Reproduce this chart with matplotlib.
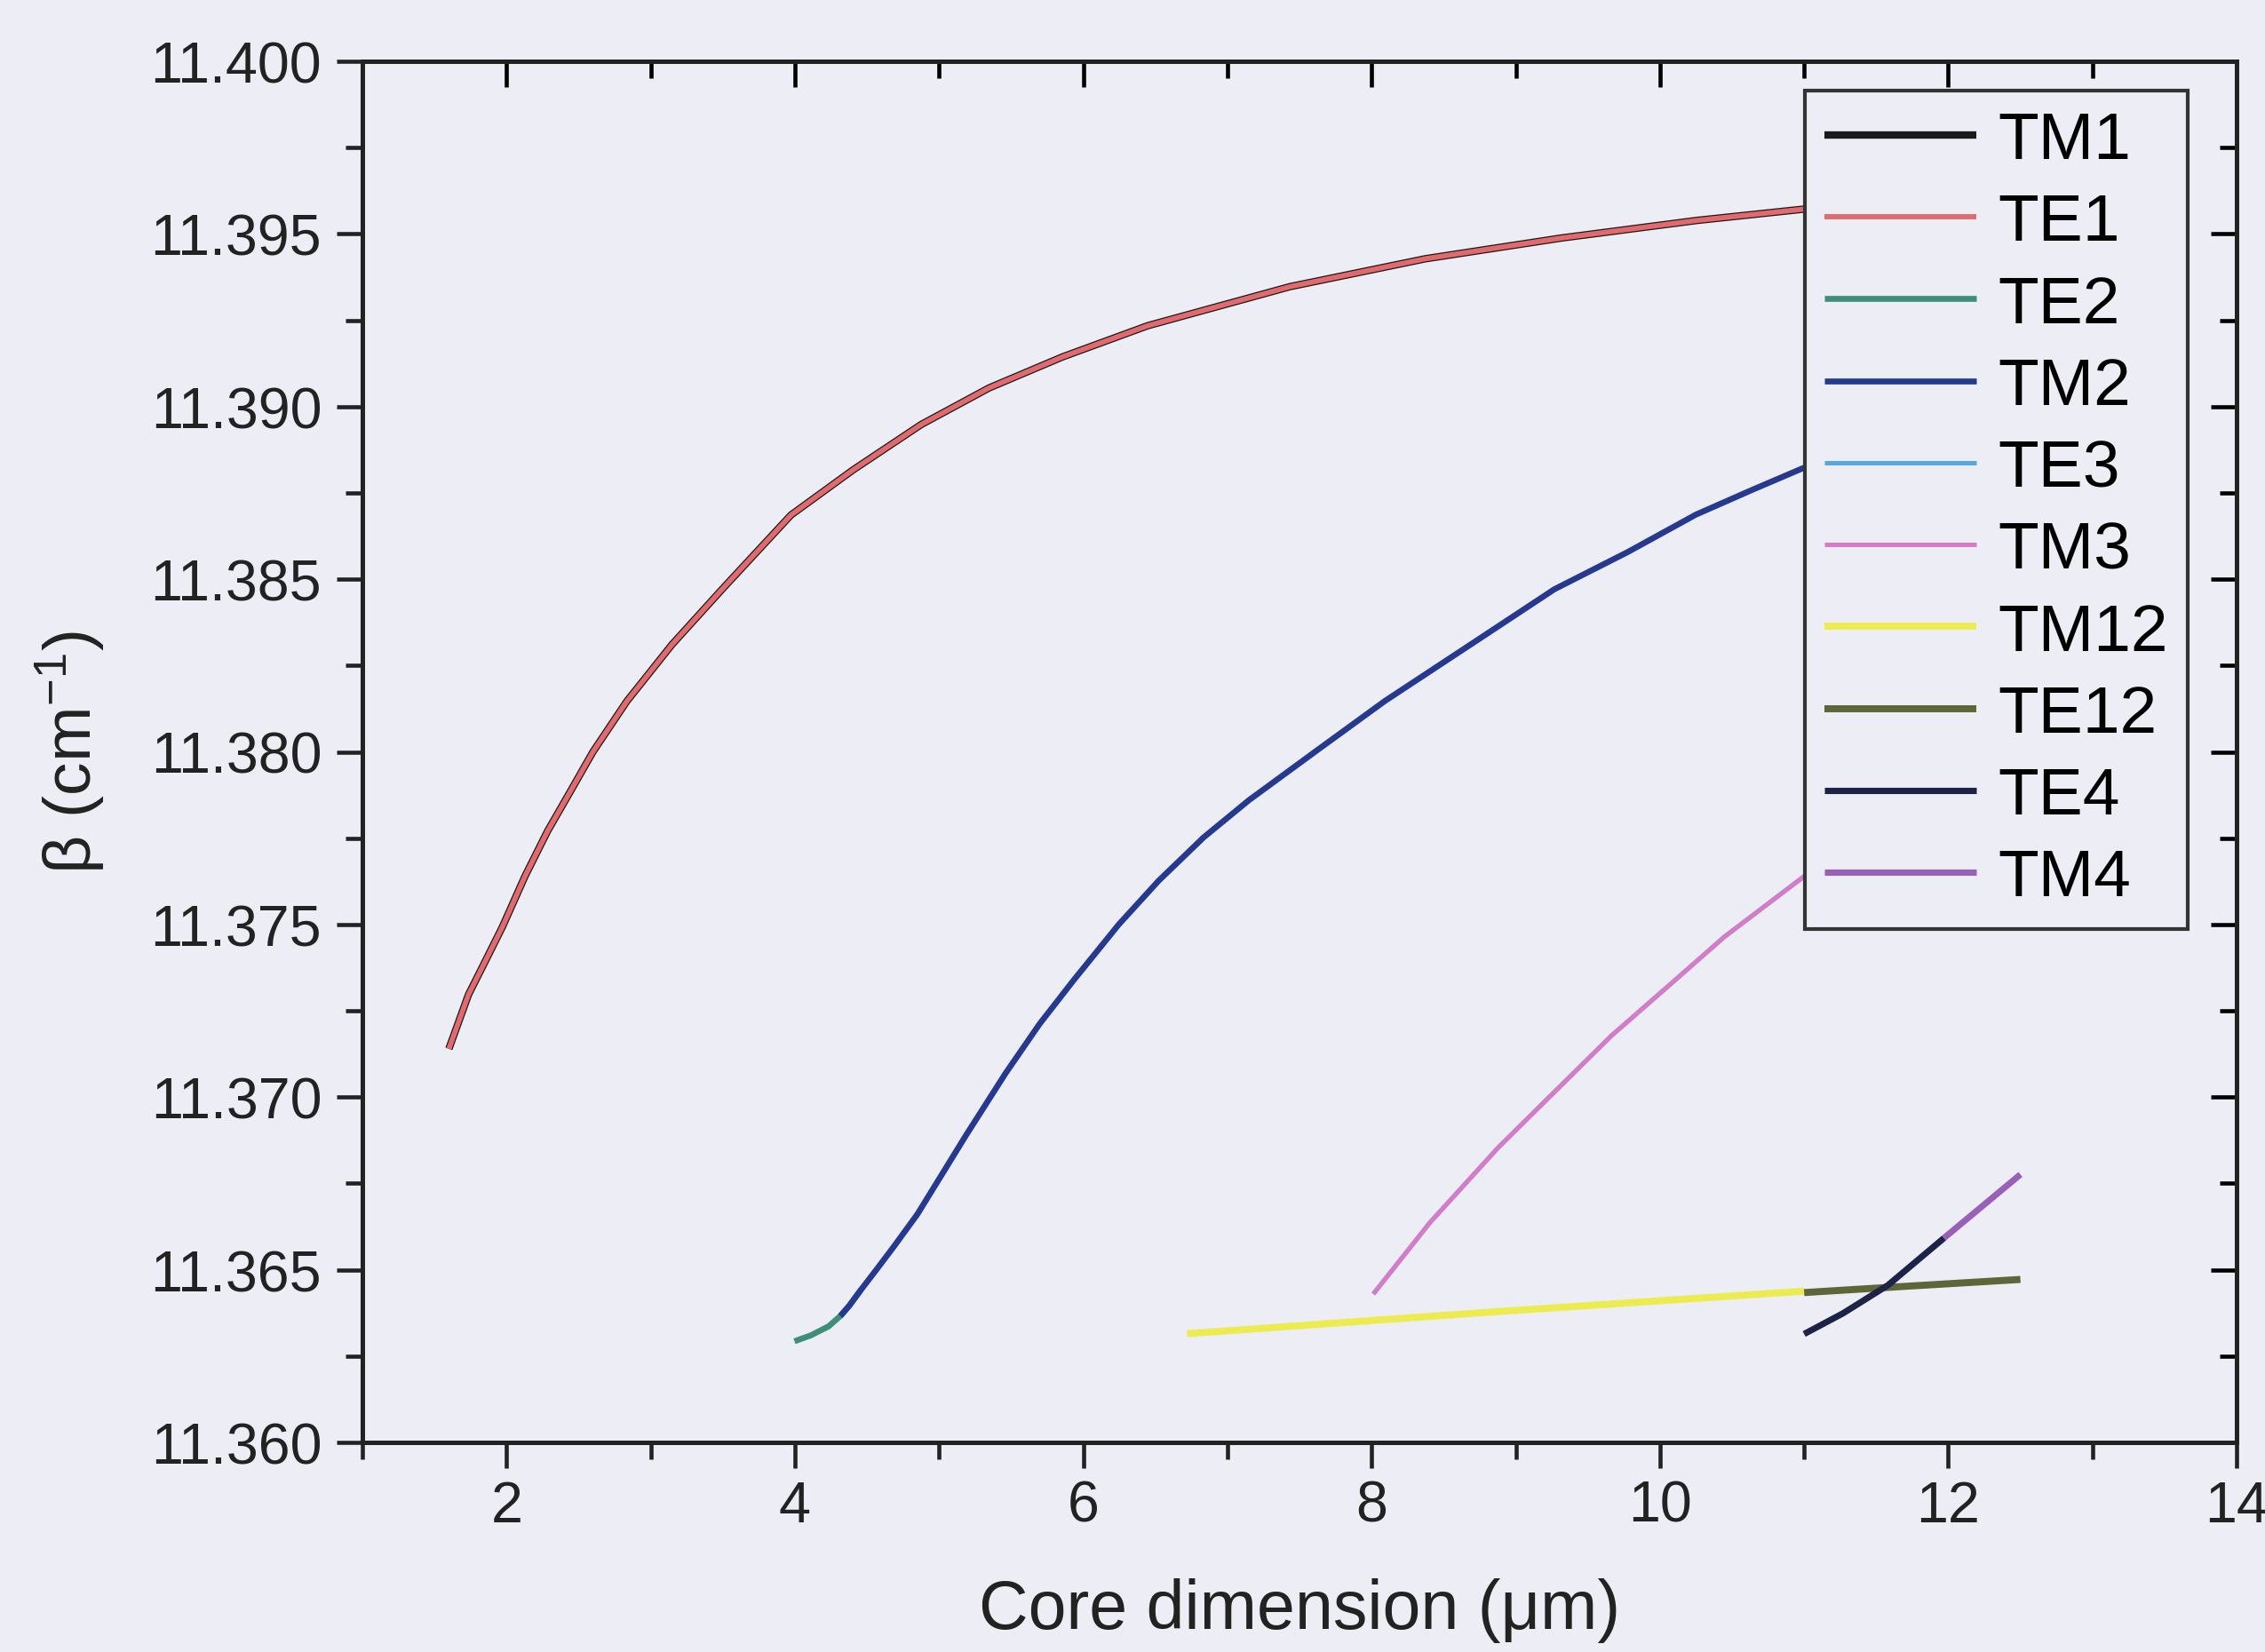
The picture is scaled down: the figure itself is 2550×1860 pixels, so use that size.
import matplotlib
matplotlib.use("Agg")
import matplotlib.pyplot as plt
import matplotlib.ticker as mticker

plt.rc("font", family=["Liberation Sans", "DejaVu Sans"])
plt.rc("mathtext", default="regular")

bg = "#ededf5"

# TM1 / TE1 (fundamental modes, lie on top of each other)
x_te1 = [1.6, 1.736, 1.854, 1.971, 2.128, 2.285, 2.442, 2.599, 2.835, 3.148, 3.502, 3.973,
         4.405, 4.876, 5.347, 5.857, 6.446, 7.431, 8.372, 9.314, 10.255, 10.979, 12.0, 12.5]
y_te1 = [11.3714, 11.37297, 11.37395, 11.37493, 11.37640, 11.37771, 11.37885, 11.38000,
         11.38147, 11.38311, 11.38474, 11.38686, 11.38817, 11.38948, 11.39054, 11.39144,
         11.39234, 11.39347, 11.39428, 11.39488, 11.39539, 11.39571, 11.3960, 11.3961]
x_tm1 = x_te1
y_tm1 = y_te1

# TE2 (only the start is visible) and TM2
x_te2 = [3.997, 4.110, 4.233, 4.315, 4.377, 4.458]
y_te2 = [11.36293, 11.36310, 11.36336, 11.36366, 11.36396, 11.36442]
x_tm2 = [4.315, 4.377, 4.458, 4.561, 4.684, 4.848, 5.012, 5.186, 5.461, 5.697, 5.932, 6.246,
         6.521, 6.834, 7.149, 7.620, 8.091, 8.680, 9.268, 9.778, 10.249, 10.641, 10.994,
         12.0, 12.5]
y_tm2 = [11.36366, 11.36396, 11.36442, 11.36498, 11.36566, 11.36660, 11.36771, 11.36889,
         11.37069, 11.37212, 11.37338, 11.37500, 11.37626, 11.37752, 11.37860, 11.38004,
         11.38147, 11.38309, 11.38471, 11.38579, 11.38687, 11.38759, 11.38822, 11.3898,
         11.3904]

# TE3 / TM3
x_tm3 = [8.012, 8.405, 8.876, 9.268, 9.661, 10.053, 10.446, 11.014, 12.5]
y_tm3 = [11.3643, 11.36637, 11.36853, 11.37015, 11.37177, 11.37320, 11.37464, 11.37644, 11.3805]
x_te3 = x_tm3
y_te3 = y_tm3

# TM12 / TE12
x_tm12 = [6.72, 8.84, 11.0]
y_tm12 = [11.36315, 11.36378, 11.36438]
x_te12 = [11.0, 11.7, 12.5]
y_te12 = [11.36434, 11.36452, 11.36472]

# TE4 / TM4
x_te4 = [11.0, 11.27, 11.58, 11.97]
y_te4 = [11.36314, 11.36374, 11.36455, 11.36592]
x_tm4 = [11.97, 12.5]
y_tm4 = [11.36592, 11.36776]

series = [
    ("TM1", x_tm1, y_tm1, "#1a1a1a", 2.0),
    ("TE1", x_te1, y_te1, "#e26a6e", 1.4),
    ("TE2", x_te2, y_te2, "#3f8f78", 1.6),
    ("TM2", x_tm2, y_tm2, "#25398f", 1.6),
    ("TE3", x_te3, y_te3, "#55a8e0", 1.2),
    ("TM3", x_tm3, y_tm3, "#d77ac8", 1.2),
    ("TM12", x_tm12, y_tm12, "#ecec50", 1.9),
    ("TE12", x_te12, y_te12, "#5d6638", 1.9),
    ("TE4", x_te4, y_te4, "#1d2348", 1.7),
    ("TM4", x_tm4, y_tm4, "#9a5fb8", 1.7),
]

fig = plt.figure(figsize=(8.5, 6.2033), dpi=300, facecolor=bg)
ax = fig.add_axes([0.16, 0.1268, 0.8275, 0.8356], facecolor=bg)

for name, xs, ys, c, lw in series:
    ax.plot(xs, ys, color=c, lw=lw, label=name, solid_capstyle="butt")

ax.set_xlim(1, 14)
ax.set_ylim(11.360, 11.400)
ax.xaxis.set_major_locator(mticker.MultipleLocator(2))
ax.xaxis.set_minor_locator(mticker.MultipleLocator(1))
ax.yaxis.set_major_locator(mticker.MultipleLocator(0.005))
ax.yaxis.set_minor_locator(mticker.MultipleLocator(0.0025))
ax.yaxis.set_major_formatter(mticker.FormatStrFormatter("%.3f"))

for sp in ax.spines.values():
    sp.set_linewidth(1.2)
    sp.set_color("#222222")

ax.tick_params(which="major", direction="out", length=7, width=1.1, labelsize=15.5,
               pad=4, colors="#222222")
ax.tick_params(which="minor", direction="out", length=4.5, width=1.1, colors="#222222")
ax.tick_params(axis="x", which="major", pad=3)

# top and right ticks point inwards
top = ax.secondary_xaxis("top")
top.xaxis.set_major_locator(mticker.MultipleLocator(2))
top.xaxis.set_minor_locator(mticker.MultipleLocator(1))
top.tick_params(which="major", direction="in", length=7, width=1.1, labeltop=False)
top.tick_params(which="minor", direction="in", length=4.5, width=1.1)
top.spines["top"].set_linewidth(1.2)
right = ax.secondary_yaxis("right")
right.yaxis.set_major_locator(mticker.MultipleLocator(0.005))
right.yaxis.set_minor_locator(mticker.MultipleLocator(0.0025))
right.tick_params(which="major", direction="in", length=7, width=1.1, labelright=False)
right.tick_params(which="minor", direction="in", length=4.5, width=1.1)
right.spines["right"].set_linewidth(1.2)

ax.set_xlabel("Core dimension (μm)", fontsize=18.5, labelpad=12, color="#222222")
ax.set_ylabel("β (cm$^{-1}$)", fontsize=18, labelpad=12, color="#222222")

leg = ax.legend(loc="upper right", bbox_to_anchor=(0.974, 0.979), fontsize=18,
                frameon=True, fancybox=False, handlelength=2.28, handletextpad=0.32,
                labelspacing=0.31, borderpad=0.3, borderaxespad=0)
leg.get_frame().set_facecolor(bg)
leg.get_frame().set_edgecolor("#333333")
leg.get_frame().set_linewidth(1.0)
leg.get_frame().set_alpha(1)

fig.savefig("out.png", dpi=300, facecolor=bg)
